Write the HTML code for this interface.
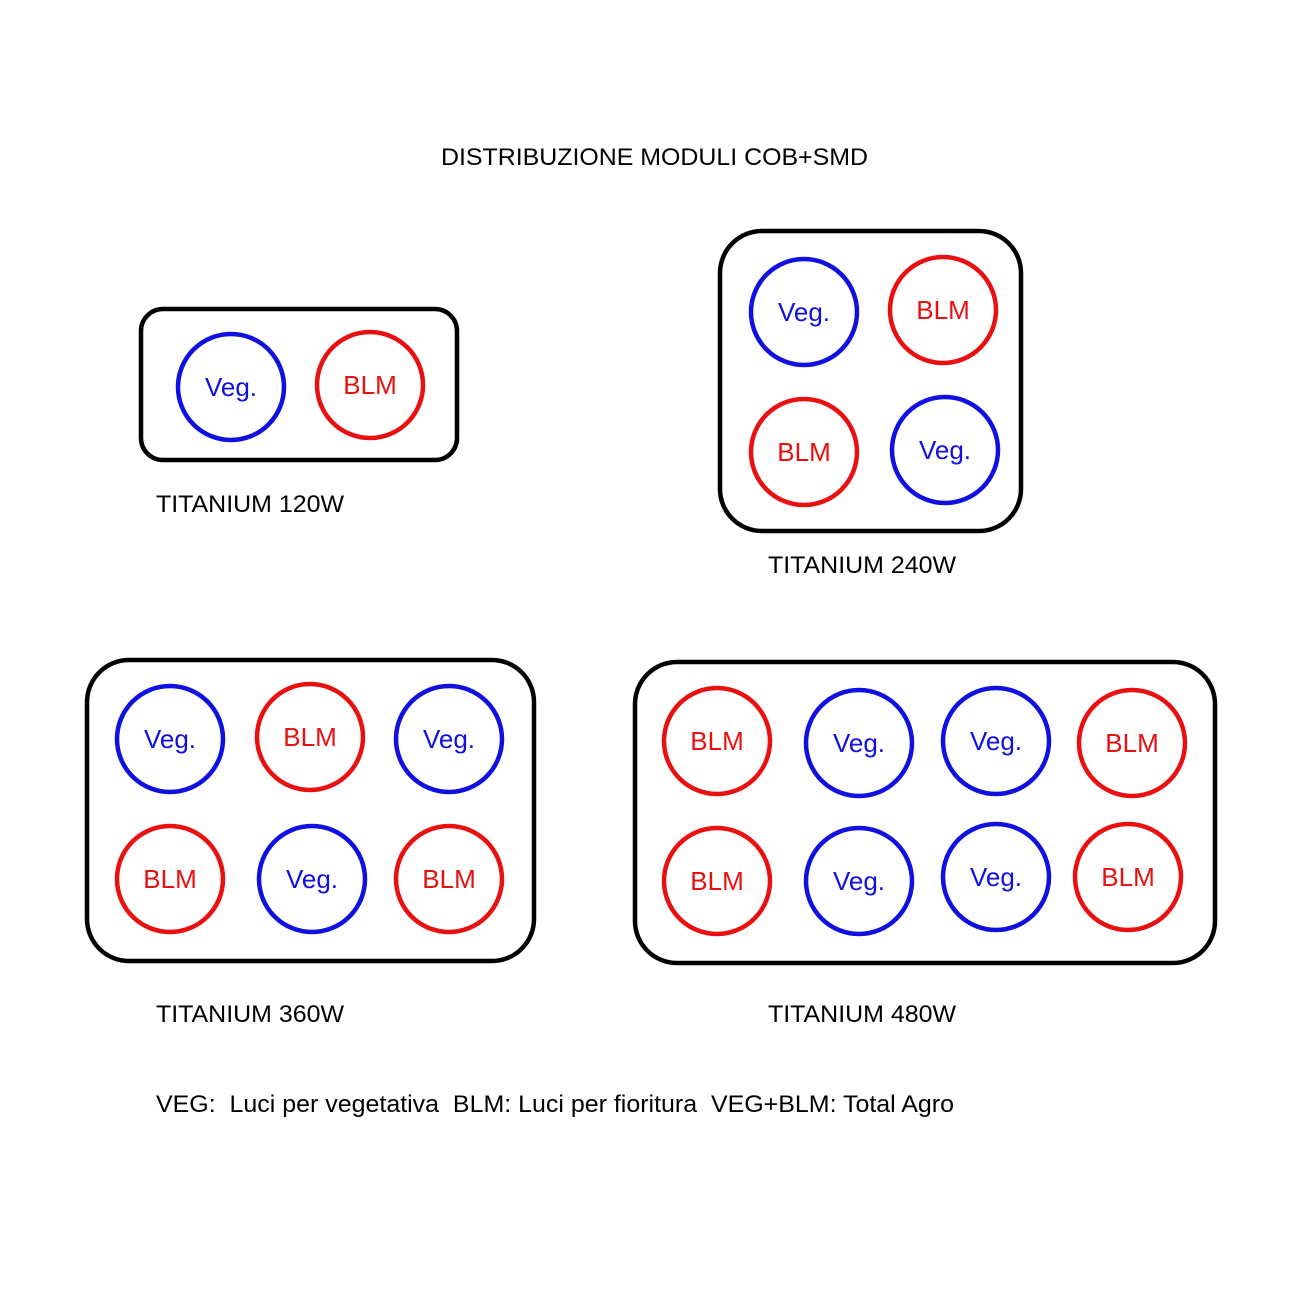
<!DOCTYPE html>
<html><head><meta charset="utf-8"><style>
html,body{margin:0;padding:0;background:#fff}
svg{display:block}
text{font-family:"Liberation Sans",sans-serif}
.c{fill:none;stroke-width:4.5}
.v{stroke:#1010e0}.b{stroke:#e81010}
.tv{fill:#1010e0;font-size:26px;text-anchor:middle}
.tb{fill:#e81010;font-size:26px;text-anchor:middle}
.box{fill:none;stroke:#000;stroke-width:4.5}
.lbl{font-size:24px;fill:#000}
</style></head><body>
<svg width="1300" height="1300" viewBox="0 0 1300 1300">
<text x="441" y="165" class="lbl" textLength="427" lengthAdjust="spacingAndGlyphs">DISTRIBUZIONE MODULI COB+SMD</text>

<rect class="box" x="141" y="309" width="316" height="151" rx="22"/>
<circle class="c v" cx="231" cy="387" r="53"/><text class="tv" x="231" y="396">Veg.</text>
<circle class="c b" cx="370" cy="385" r="53"/><text class="tb" x="370" y="394">BLM</text>
<text class="lbl" x="156" y="512" textLength="188" lengthAdjust="spacingAndGlyphs">TITANIUM 120W</text>

<rect class="box" x="720" y="231" width="301" height="300" rx="42"/>
<circle class="c v" cx="804" cy="312" r="53"/><text class="tv" x="804" y="321">Veg.</text>
<circle class="c b" cx="943" cy="310" r="53"/><text class="tb" x="943" y="319">BLM</text>
<circle class="c b" cx="804" cy="452" r="53"/><text class="tb" x="804" y="461">BLM</text>
<circle class="c v" cx="945" cy="450" r="53"/><text class="tv" x="945" y="459">Veg.</text>
<text class="lbl" x="768" y="573" textLength="188" lengthAdjust="spacingAndGlyphs">TITANIUM 240W</text>

<rect class="box" x="87" y="660" width="447" height="301" rx="42"/>
<circle class="c v" cx="170" cy="739" r="53"/><text class="tv" x="170" y="748">Veg.</text>
<circle class="c b" cx="310" cy="737" r="53"/><text class="tb" x="310" y="746">BLM</text>
<circle class="c v" cx="449" cy="739" r="53"/><text class="tv" x="449" y="748">Veg.</text>
<circle class="c b" cx="170" cy="879" r="53"/><text class="tb" x="170" y="888">BLM</text>
<circle class="c v" cx="312" cy="879" r="53"/><text class="tv" x="312" y="888">Veg.</text>
<circle class="c b" cx="449" cy="879" r="53"/><text class="tb" x="449" y="888">BLM</text>
<text class="lbl" x="156" y="1022" textLength="188" lengthAdjust="spacingAndGlyphs">TITANIUM 360W</text>

<rect class="box" x="635" y="662" width="580" height="301" rx="42"/>
<circle class="c b" cx="717" cy="741" r="53"/><text class="tb" x="717" y="750">BLM</text>
<circle class="c v" cx="859" cy="743" r="53"/><text class="tv" x="859" y="752">Veg.</text>
<circle class="c v" cx="996" cy="741" r="53"/><text class="tv" x="996" y="750">Veg.</text>
<circle class="c b" cx="1132" cy="743" r="53"/><text class="tb" x="1132" y="752">BLM</text>
<circle class="c b" cx="717" cy="881" r="53"/><text class="tb" x="717" y="890">BLM</text>
<circle class="c v" cx="859" cy="881" r="53"/><text class="tv" x="859" y="890">Veg.</text>
<circle class="c v" cx="996" cy="877" r="53"/><text class="tv" x="996" y="886">Veg.</text>
<circle class="c b" cx="1128" cy="877" r="53"/><text class="tb" x="1128" y="886">BLM</text>
<text class="lbl" x="768" y="1022" textLength="188" lengthAdjust="spacingAndGlyphs">TITANIUM 480W</text>

<text class="lbl" x="156" y="1112" xml:space="preserve" textLength="798" lengthAdjust="spacingAndGlyphs">VEG:  Luci per vegetativa  BLM: Luci per fioritura  VEG+BLM: Total Agro</text>
</svg>
</body></html>
